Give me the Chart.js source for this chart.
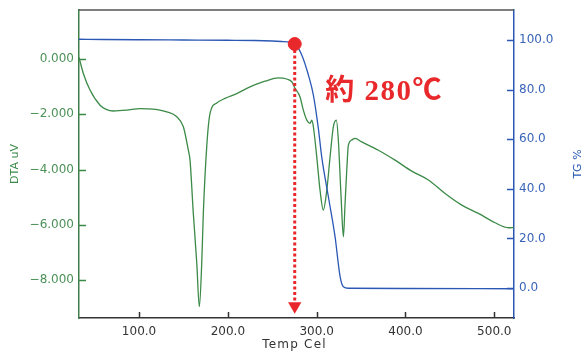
<!DOCTYPE html>
<html>
<head>
<meta charset="utf-8">
<script src="https://cdn.jsdelivr.net/npm/chart.js@4"></script>
<style>
  html, body { margin: 0; padding: 0; background: #fff; }
  canvas { display: block; }
</style>
</head>
<body>
<canvas id="myChart" width="587" height="354"></canvas>
<script>
// DTA curve: temperature (Cel) and signal (uV)
const dtaTemp = [32.4, 37.3, 44.8, 56.1, 63.0, 71.1, 86.1, 101.1, 116.1, 131.2, 142.5, 149.9, 155.5, 157.4,
  161.1, 165.0, 167.9, 170.6, 172.4, 176.2, 180.0, 187.5, 196.8, 210.0, 223.1, 236.3, 241.9, 256.9, 266.3,
  272.0, 275.7, 281.3, 285.0, 288.9, 292.6, 294.5, 296.3, 300.1, 303.8, 307.5, 311.4, 315.1, 318.8, 322.2,
  324.4, 327.5, 330.1, 332.0, 333.9, 335.7, 339.5, 343.2, 350.8, 369.5, 388.3, 407.1, 425.8, 444.6, 463.4,
  482.1, 500.9, 515.9, 522.0];
const dtaValue = [0.06, -0.52, -1.12, -1.67, -1.82, -1.88, -1.85, -1.79, -1.81, -1.91, -2.09, -2.45, -3.30, -3.66,
  -5.58, -7.39, -8.97, -7.39, -5.58, -3.18, -1.96, -1.59, -1.42, -1.25, -1.03, -0.86, -0.80, -0.68, -0.72,
  -0.82, -1.06, -1.37, -1.85, -2.21, -2.33, -2.21, -2.45, -3.54, -4.75, -5.47, -4.75, -3.54, -2.45, -2.21,
  -2.93, -4.99, -6.44, -5.22, -4.02, -3.12, -2.93, -2.87, -3.00, -3.30, -3.66, -4.06, -4.38, -4.87, -5.29,
  -5.59, -5.93, -6.11, -6.10];

// TG curve: temperature (Cel) and mass (%)
const tgTemp = [32.4, 60, 100, 150, 200, 230, 250, 260, 270, 275.7, 283.2, 290.7, 296.3, 301.9, 305.7,
  313.2, 320.7, 326.4, 330.1, 335.7, 400, 522.0];
const tgValue = [100.3, 100.2, 100.1, 100.0, 99.9, 99.8, 99.6, 99.4, 99.1, 98.4, 94.0, 85.9, 77.8, 64.4, 52.9,
  36.8, 20.7, 4.6, 0.5, -0.1, -0.2, -0.3];

// tick labels
const tempTicks = [100, 200, 300, 400, 500];
const dtaTicks = [0, -2, -4, -6, -8];
const tgTicks = [0, 20, 40, 60, 80, 100];

// onset marker
const onsetTemp = 275.3;
const onsetTG = 98.4;
const onsetLabel = '約 280℃';

const green = '#3b8a47', blue = '#2b58b5', red = '#e8282a';

function toPoints(xs, ys) {
  return xs.map((x, i) => ({ x: x, y: ys[i] }));
}

function fixedBox(size, horizontal) {
  return function (scale) {
    if (horizontal) scale.height = size; else scale.width = size;
    scale.paddingTop = scale.paddingBottom = scale.paddingLeft = scale.paddingRight = 0;
  };
}

// frame, inward tick marks, titles and the onset label
const decorations = {
  id: 'decorations',
  beforeDatasetsDraw(chart) {
    const { ctx, chartArea: a, scales } = chart;
    ctx.save();
    ctx.lineWidth = 1.3;
    ctx.strokeStyle = '#555';
    ctx.beginPath();
    ctx.moveTo(a.left, a.top);
    ctx.lineTo(a.right, a.top);
    ctx.stroke();

    ctx.lineWidth = 1.5;
    ctx.strokeStyle = '#333';
    tempTicks.forEach(v => {
      const px = Math.round(scales.x.getPixelForValue(v)) + 0.5;
      ctx.beginPath(); ctx.moveTo(px, a.bottom); ctx.lineTo(px, a.bottom - 6); ctx.stroke();
    });
    ctx.strokeStyle = green;
    dtaTicks.forEach(v => {
      const py = Math.round(scales.yDTA.getPixelForValue(v)) + 0.5;
      ctx.beginPath(); ctx.moveTo(a.left, py); ctx.lineTo(a.left + 7, py); ctx.stroke();
    });
    ctx.strokeStyle = blue;
    tgTicks.forEach(v => {
      const py = Math.round(scales.yTG.getPixelForValue(v)) + 0.5;
      ctx.beginPath(); ctx.moveTo(a.right, py); ctx.lineTo(a.right - 7, py); ctx.stroke();
    });
    ctx.restore();
  },
  afterDraw(chart) {
    const { ctx, chartArea: a, scales } = chart;
    const midY = (a.top + a.bottom) / 2;
    ctx.save();
    ctx.textAlign = 'center';
    ctx.textBaseline = 'middle';

    ctx.font = '11px "DejaVu Sans"';
    ctx.fillStyle = green;
    ctx.save(); ctx.translate(15, midY); ctx.rotate(-Math.PI / 2); ctx.fillText('DTA uV', 0, 0); ctx.restore();
    ctx.fillStyle = blue;
    ctx.save(); ctx.translate(578, midY); ctx.rotate(-Math.PI / 2); ctx.fillText('TG %', 0, 0); ctx.restore();

    ctx.font = '12px "DejaVu Sans"';
    ctx.fillStyle = '#333';
    ctx.letterSpacing = '1.2px';
    ctx.fillText('Temp Cel', (a.left + a.right) / 2 - 2, 345);

    ctx.textAlign = 'left';
    ctx.textBaseline = 'alphabetic';
    ctx.font = 'bold 29px "Liberation Serif", "Noto Sans CJK JP", serif';
    ctx.letterSpacing = '1.5px';
    ctx.fillStyle = red;
    const mx = scales.x.getPixelForValue(onsetTemp);
    const my = scales.yTG.getPixelForValue(onsetTG);
    ctx.fillText(onsetLabel, mx + 30.5, my + 56);
    ctx.letterSpacing = '0px';
    ctx.restore();
  }
};

const ctx = document.getElementById('myChart').getContext('2d');
const chart = new Chart(ctx, {
  type: 'scatter',
  data: {
    datasets: [{
      label: 'onset',
      data: [{ x: onsetTemp, y: onsetTG }],
      yAxisID: 'yTG',
      pointRadius: 6.5,
      pointBackgroundColor: red,
      pointBorderColor: red,
      showLine: false
    }, {
      label: 'arrow',
      data: [{ x: onsetTemp, y: -7.3 }],
      yAxisID: 'yTG',
      pointStyle: 'triangle',
      rotation: 180,
      pointRadius: 7.7,
      pointBackgroundColor: red,
      pointBorderColor: red,
      pointBorderWidth: 0,
      showLine: false
    }, {
      label: 'guide',
      data: [{ x: onsetTemp, y: 96 }, { x: onsetTemp, y: -5.6 }],
      yAxisID: 'yTG',
      showLine: true,
      borderColor: red,
      borderWidth: 3,
      borderDash: [3, 2.5],
      pointRadius: 0
    }, {
      label: 'TG',
      data: toPoints(tgTemp, tgValue),
      yAxisID: 'yTG',
      showLine: true,
      borderColor: blue,
      borderWidth: 1.3,
      pointRadius: 0,
      cubicInterpolationMode: 'monotone'
    }, {
      label: 'DTA',
      data: toPoints(dtaTemp, dtaValue),
      yAxisID: 'yDTA',
      showLine: true,
      borderColor: green,
      borderWidth: 1.3,
      pointRadius: 0,
      cubicInterpolationMode: 'monotone'
    }]
  },
  options: {
    responsive: false,
    animation: false,
    devicePixelRatio: 1,
    layout: { padding: { top: 10, left: 0, right: 0, bottom: 0 } },
    plugins: { legend: { display: false }, tooltip: { enabled: false } },
    scales: {
      x: {
        type: 'linear',
        min: 32.4,
        max: 522.2,
        afterBuildTicks: s => { s.ticks = tempTicks.map(v => ({ value: v })); },
        afterFit: fixedBox(36, true),
        grid: { display: false, drawTicks: false },
        border: { display: true, color: '#333', width: 1.5 },
        ticks: {
          autoSkip: false, maxRotation: 0, padding: 7, color: '#333',
          font: { family: 'DejaVu Sans', size: 12 },
          callback: v => v.toFixed(1)
        }
      },
      yDTA: {
        type: 'linear',
        position: 'left',
        min: -9.38,
        max: 1.78,
        afterBuildTicks: s => { s.ticks = dtaTicks.map(v => ({ value: v })); },
        afterFit: fixedBox(79, false),
        grid: { display: false, drawTicks: false },
        border: { display: true, color: '#3f7d4a', width: 1.5 },
        ticks: {
          autoSkip: false, padding: 5, color: '#4c9157',
          font: { family: 'DejaVu Sans', size: 12 },
          callback: v => (v < 0 ? '\u2212' : '') + Math.abs(v).toFixed(3)
        }
      },
      yTG: {
        type: 'linear',
        position: 'right',
        min: -12.1,
        max: 112.1,
        afterBuildTicks: s => { s.ticks = tgTicks.map(v => ({ value: v })); },
        afterFit: fixedBox(73, false),
        grid: { display: false, drawTicks: false },
        border: { display: true, color: blue, width: 1.5 },
        ticks: {
          autoSkip: false, padding: 5, color: '#3964b8',
          font: { family: 'DejaVu Sans', size: 12 },
          callback: v => v.toFixed(1)
        }
      }
    }
  },
  plugins: [decorations]
});
</script>
</body>
</html>
